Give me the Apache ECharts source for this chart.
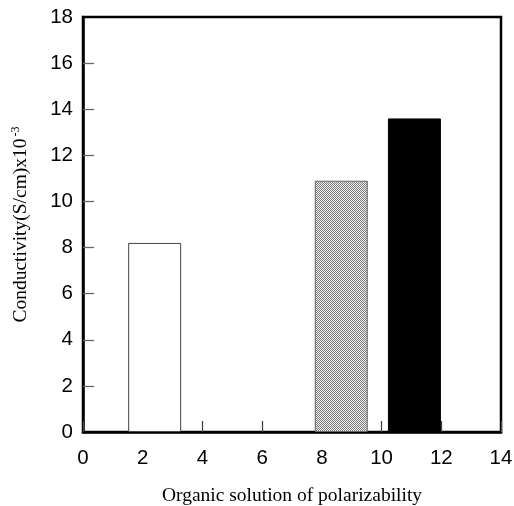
<!DOCTYPE html>
<html>
<head>
<meta charset="utf-8">
<script src="https://cdn.jsdelivr.net/npm/echarts@6/dist/echarts.min.js"></script>
<style>
  html, body { margin: 0; padding: 0; background: #fff; }
  #chart { width: 514px; height: 506px; }
</style>
</head>
<body>
<div id="chart"></div>
<script>
// bar positions (x) and conductivity values
const xPositions = [2.4, 8.65, 11.1]
const conductivity = [8.2, 10.9, 13.6]
const xTicks = [0, 2, 4, 6, 8, 10, 12, 14]
const yTicks = [0, 2, 4, 6, 8, 10, 12, 14, 16, 18]

// checker fill for the middle (dotted) bar
function makeDots () {
  const c = document.createElement('canvas')
  c.width = 2
  c.height = 2
  const ctx = c.getContext('2d')
  ctx.fillStyle = '#f0f0f0'
  ctx.fillRect(0, 0, 2, 2)
  ctx.fillStyle = '#7c7c7c'
  ctx.fillRect(0, 0, 1, 1)
  ctx.fillRect(1, 1, 1, 1)
  return c
}

const barStyles = [
  { color: '#ffffff', borderColor: '#444', borderWidth: 1 },
  { color: { image: makeDots(), repeat: 'repeat' }, borderColor: '#666', borderWidth: 1 },
  { color: '#000000', borderColor: '#000', borderWidth: 1 }
]

const gridLeft = 83
const gridRight = 13
const plotWidth = 514 - gridLeft - gridRight
const xMin = xTicks[0]
const xMax = xTicks[xTicks.length - 1]
// inward y ticks would not draw, so do them as short mark lines (11px long)
const tickLen = 11 * (xMax - xMin) / plotWidth
const yTickLines = yTicks.slice(1, -1).map(v => [{ coord: [xMin, v] }, { coord: [xMin + tickLen, v] }])

const myChart = echarts.init(document.getElementById('chart'))
const option = {
  animation: false,
  grid: {
    left: gridLeft, right: gridRight, top: 17, bottom: 74,
    outerBoundsMode: 'none',
    containLabel: false,
    show: true,
    borderColor: '#000',
    borderWidth: 2.5,
    backgroundColor: 'transparent'
  },
  xAxis: {
    type: 'value',
    min: xMin,
    max: xMax,
    interval: 2,
    name: 'Organic solution of polarizability',
    nameLocation: 'middle',
    nameGap: 54,
    nameTextStyle: { fontFamily: 'Liberation Serif', fontSize: 19.5, color: '#000' },
    axisLine: { show: true, lineStyle: { color: '#000', width: 2.5 } },
    axisTick: { show: true, inside: true, length: 11, lineStyle: { color: '#444', width: 1.3 } },
    axisLabel: { fontFamily: 'Liberation Sans', fontSize: 20.5, color: '#000', margin: 16 },
    splitLine: { show: false }
  },
  yAxis: {
    type: 'value',
    position: 'left',
    min: yTicks[0],
    max: yTicks[yTicks.length - 1],
    interval: 2,
    name: 'Conductivity(S/cm)x10{sup|-3}',
    nameLocation: 'middle',
    nameGap: 51,
    nameTextStyle: {
      fontFamily: 'Liberation Serif',
      fontSize: 19.5,
      color: '#000',
      rich: {
        sup: { fontFamily: 'Liberation Serif', fontSize: 12, color: '#000', verticalAlign: 'top', padding: [0, 0, 10, 2] }
      }
    },
    axisLine: { show: true, onZero: false, lineStyle: { color: '#000', width: 2.5 } },
    axisTick: { show: false },
    axisLabel: { fontFamily: 'Liberation Sans', fontSize: 20.5, color: '#000', margin: 10 },
    splitLine: { show: false }
  },
  series: [
    {
      type: 'bar',
      barWidth: 53,
      data: xPositions.map((x, i) => ({ value: [x, conductivity[i]], itemStyle: barStyles[i] })),
      markLine: {
        silent: true,
        symbol: ['none', 'none'],
        label: { show: false },
        lineStyle: { color: '#666', width: 1.3, type: 'solid' },
        data: yTickLines
      }
    }
  ]
}
myChart.setOption(option)
</script>
</body>
</html>
